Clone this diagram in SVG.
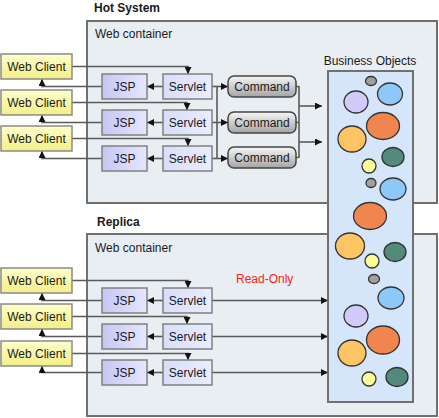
<svg xmlns="http://www.w3.org/2000/svg" width="439" height="418" viewBox="0 0 439 418">
<defs>
<linearGradient id="gClient" x1="0" y1="0" x2="0" y2="1"><stop offset="0" stop-color="#ffffcc"/><stop offset="1" stop-color="#f3ef86"/></linearGradient>
<linearGradient id="gJsp" x1="0" y1="0" x2="1" y2="0"><stop offset="0" stop-color="#c6c6f4"/><stop offset="1" stop-color="#e6e6ff"/></linearGradient>
<linearGradient id="gServ" x1="0" y1="0" x2="1" y2="0"><stop offset="0" stop-color="#d8def9"/><stop offset="1" stop-color="#e8edff"/></linearGradient>
<linearGradient id="gCmd" x1="0" y1="0" x2="0" y2="1"><stop offset="0" stop-color="#f6f6f6"/><stop offset="1" stop-color="#a4a4a4"/></linearGradient>
<marker id="arr" viewBox="0 0 8 8" refX="8" refY="4" markerWidth="7" markerHeight="7" markerUnits="userSpaceOnUse" orient="auto"><path d="M0,0 L8,4 L0,8 z" fill="#111"/></marker>
</defs>
<style>
text{font-family:"Liberation Sans",Arial,sans-serif;font-size:12px;fill:#1a1a1a}
.title{font-weight:bold}
.ctr{fill:#e8eef2;stroke:#707070;stroke-width:2}
.client{fill:url(#gClient);stroke:#8a8a8a;stroke-width:1.5}
.jsp{fill:url(#gJsp);stroke:#808080;stroke-width:1.5}
.serv{fill:url(#gServ);stroke:#808080;stroke-width:1.5}
.cmd{fill:url(#gCmd);stroke:#444;stroke-width:1.5}
.bo{fill:#d6e6fa;stroke:#707070;stroke-width:2}
.c{stroke:#333;stroke-width:1.3}
.ln{fill:none;stroke:#5a5a5a;stroke-width:1.6}
.ar{marker-end:url(#arr)}
.ro{fill:#ff2020}
</style>

<g id="hot-system">
<text class="title" x="94" y="12">Hot System</text>
<rect class="ctr" x="87" y="21" width="350" height="182"/>
<text x="95" y="38">Web container</text>
</g>
<g id="replica">
<text class="title" x="97" y="226">Replica</text>
<rect class="ctr" x="87" y="234" width="350" height="182"/>
<text x="95" y="252">Web container</text>
<text class="ro" x="236" y="283">Read-Only</text>
</g>

<g id="connectors">
<!-- hot system -->
<path class="ln ar" d="M72,66.5 H188 V74"/>
<path class="ln ar" d="M72,102.5 H187 V110"/>
<path class="ln ar" d="M72,138.5 H188 V146"/>
<path class="ln ar" d="M163,86.5 H147"/>
<path class="ln ar" d="M163,122.5 H147"/>
<path class="ln ar" d="M163,158.5 H147"/>
<path class="ln ar" d="M102,86.5 H42 V79"/>
<path class="ln ar" d="M102,122.5 H42 V115"/>
<path class="ln ar" d="M102,158.5 H42 V151"/>
<path class="ln ar" d="M212,86.5 H228"/>
<path class="ln ar" d="M212,122.5 H228"/>
<path class="ln ar" d="M212,158.5 H228"/>
<path class="ln" d="M217,86.5 V158.5"/>
<path class="ln" d="M296,86.5 H299 M296,122.5 H299 M296,157.5 H299 M299,86 V158"/>
<path class="ln ar" d="M299,106 H322"/>
<path class="ln ar" d="M299,142 H322"/>
<!-- replica -->
<path class="ln ar" d="M72,280.5 H188 V288"/>
<path class="ln ar" d="M72,316.5 H187 V324"/>
<path class="ln ar" d="M72,353.5 H188 V360"/>
<path class="ln ar" d="M163,300.5 H147"/>
<path class="ln ar" d="M163,336.5 H147"/>
<path class="ln ar" d="M163,372.5 H147"/>
<path class="ln ar" d="M102,300.5 H42 V293"/>
<path class="ln ar" d="M102,336.5 H42 V329"/>
<path class="ln ar" d="M102,372.5 H42 V366"/>
<path class="ln ar" d="M212,300.5 H328"/>
<path class="ln ar" d="M212,336.5 H328"/>
<path class="ln ar" d="M212,372.5 H328"/>
</g>

<g id="client-h1"><rect class="client" x="1" y="54" width="71" height="25"/><text x="36.5" y="71" text-anchor="middle">Web Client</text></g>
<g id="client-h2"><rect class="client" x="1" y="90" width="71" height="25"/><text x="36.5" y="107" text-anchor="middle">Web Client</text></g>
<g id="client-h3"><rect class="client" x="1" y="126" width="71" height="25"/><text x="36.5" y="143" text-anchor="middle">Web Client</text></g>
<g id="jsp-h1"><rect class="jsp" x="102" y="74" width="45" height="25"/><text x="124.5" y="91" text-anchor="middle">JSP</text></g>
<g id="jsp-h2"><rect class="jsp" x="102" y="110" width="45" height="25"/><text x="124.5" y="127" text-anchor="middle">JSP</text></g>
<g id="jsp-h3"><rect class="jsp" x="102" y="146" width="45" height="25"/><text x="124.5" y="163" text-anchor="middle">JSP</text></g>
<g id="servlet-h1"><rect class="serv" x="163" y="74" width="49" height="25"/><text x="187.5" y="91" text-anchor="middle">Servlet</text></g>
<g id="servlet-h2"><rect class="serv" x="163" y="110" width="49" height="25"/><text x="187.5" y="127" text-anchor="middle">Servlet</text></g>
<g id="servlet-h3"><rect class="serv" x="163" y="146" width="49" height="25"/><text x="187.5" y="163" text-anchor="middle">Servlet</text></g>
<g id="command-1"><rect class="cmd" x="228" y="76" width="68" height="21" rx="6"/><text x="262" y="91" text-anchor="middle">Command</text></g>
<g id="command-2"><rect class="cmd" x="228" y="112" width="68" height="21" rx="6"/><text x="262" y="127" text-anchor="middle">Command</text></g>
<g id="command-3"><rect class="cmd" x="228" y="147" width="68" height="21" rx="6"/><text x="262" y="162" text-anchor="middle">Command</text></g>

<g id="client-r1"><rect class="client" x="1" y="268" width="71" height="25"/><text x="36.5" y="285" text-anchor="middle">Web Client</text></g>
<g id="client-r2"><rect class="client" x="1" y="304" width="71" height="25"/><text x="36.5" y="321" text-anchor="middle">Web Client</text></g>
<g id="client-r3"><rect class="client" x="1" y="341" width="71" height="25"/><text x="36.5" y="358" text-anchor="middle">Web Client</text></g>
<g id="jsp-r1"><rect class="jsp" x="102" y="288" width="45" height="25"/><text x="124.5" y="305" text-anchor="middle">JSP</text></g>
<g id="jsp-r2"><rect class="jsp" x="102" y="324" width="45" height="25"/><text x="124.5" y="341" text-anchor="middle">JSP</text></g>
<g id="jsp-r3"><rect class="jsp" x="102" y="360" width="45" height="25"/><text x="124.5" y="377" text-anchor="middle">JSP</text></g>
<g id="servlet-r1"><rect class="serv" x="163" y="288" width="49" height="25"/><text x="187.5" y="305" text-anchor="middle">Servlet</text></g>
<g id="servlet-r2"><rect class="serv" x="163" y="324" width="49" height="25"/><text x="187.5" y="341" text-anchor="middle">Servlet</text></g>
<g id="servlet-r3"><rect class="serv" x="163" y="360" width="49" height="25"/><text x="187.5" y="377" text-anchor="middle">Servlet</text></g>

<g id="business-objects">
<text x="370" y="65" text-anchor="middle">Business Objects</text>
<rect class="bo" x="328" y="71" width="85" height="331"/>
<ellipse class="c" cx="371" cy="81" rx="5.5" ry="4.5" fill="#a0a0a0"/>
<ellipse class="c" cx="390" cy="94" rx="12.5" ry="11" fill="#8ec8f8"/>
<ellipse class="c" cx="356" cy="102" rx="12" ry="11" fill="#d2caf8"/>
<ellipse class="c" cx="383" cy="126" rx="16.5" ry="13.5" fill="#f08550"/>
<ellipse class="c" cx="352" cy="139" rx="14" ry="13" fill="#fcc462"/>
<ellipse class="c" cx="393" cy="157" rx="11" ry="9.5" fill="#528a7c"/>
<ellipse class="c" cx="369" cy="166" rx="7" ry="7" fill="#fcfc98"/>
<ellipse class="c" cx="371" cy="183" rx="5" ry="4.5" fill="#a0a0a0"/>
<ellipse class="c" cx="393" cy="189" rx="13" ry="11" fill="#8ec8f8"/>
<ellipse class="c" cx="370" cy="216" rx="16.5" ry="13.5" fill="#f08550"/>
<ellipse class="c" cx="350" cy="246" rx="14.5" ry="13" fill="#fcc462"/>
<ellipse class="c" cx="395" cy="252" rx="11" ry="9.5" fill="#528a7c"/>
<ellipse class="c" cx="372" cy="261" rx="7" ry="7" fill="#fcfc98"/>
<ellipse class="c" cx="374" cy="279" rx="5.5" ry="4.5" fill="#a0a0a0"/>
<ellipse class="c" cx="391" cy="298" rx="13" ry="11" fill="#8ec8f8"/>
<ellipse class="c" cx="356" cy="316" rx="12" ry="11" fill="#d2caf8"/>
<ellipse class="c" cx="383" cy="340" rx="16.5" ry="14" fill="#f08550"/>
<ellipse class="c" cx="352" cy="353" rx="14" ry="13" fill="#fcc462"/>
<ellipse class="c" cx="369" cy="379" rx="7" ry="7" fill="#fcfc98"/>
<ellipse class="c" cx="397" cy="377" rx="11" ry="9.5" fill="#528a7c"/>
</g>
</svg>
